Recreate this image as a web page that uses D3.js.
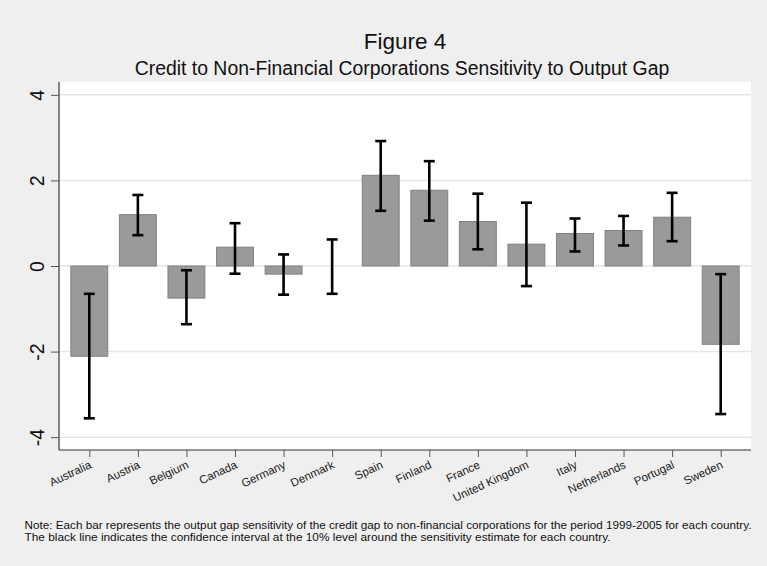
<!DOCTYPE html>
<html>
<head>
<meta charset="utf-8">
<script src="https://cdn.jsdelivr.net/npm/d3@7"></script>
<style>
  html, body { margin: 0; padding: 0; background: #efefef; }
  svg { display: block; font-family: "Liberation Sans", Arial, Helvetica, sans-serif; }
</style>
</head>
<body>
<svg id="chart" width="767" height="566"></svg>
<script>
// Countries, point estimates and 10% confidence bounds
const countries = ["Australia", "Austria", "Belgium", "Canada", "Germany", "Denmark", "Spain",
  "Finland", "France", "United Kingdom", "Italy", "Netherlands", "Portugal", "Sweden"];
const estimates = [-2.11, 1.20, -0.75, 0.44, -0.19, 0.00, 2.12, 1.77, 1.04, 0.51, 0.76, 0.83, 1.14, -1.83];
const ciLow  = [-3.56, 0.72, -1.36, -0.18, -0.67, -0.65, 1.29, 1.06, 0.39, -0.47, 0.34, 0.48, 0.58, -3.46];
const ciHigh = [-0.65, 1.66, -0.10, 1.00, 0.27, 0.62, 2.92, 2.45, 1.69, 1.48, 1.11, 1.17, 1.71, -0.19];
const yTicks = [-4, -2, 0, 2, 4];
const yTickLabels = ["-4", "-2", "0", "2", "4"];

const titleText = "Figure 4";
const subtitleText = "Credit to Non-Financial Corporations Sensitivity to Output Gap";
const noteLines = [
  "Note: Each bar represents the output gap sensitivity of the credit gap to non-financial corporations for the period 1999-2005 for each country.",
  "The black line indicates the confidence interval at the 10% level around the sensitivity estimate for each country."
];

const svg = d3.select("#chart");
const plot = { left: 59, right: 751, top: 82, bottom: 450 };

const x = d3.scalePoint().domain(countries).range([plot.left, plot.right]).padding(0.624);
const y = d3.scaleLinear().domain([-4.3, 4.3]).range([plot.bottom, plot.top]);
const barW = x.step() * 0.76;

const rows = countries.map((c, i) => ({ c, v: estimates[i], lo: ciLow[i], hi: ciHigh[i] }));

// plot region
svg.append("rect")
  .attr("x", plot.left).attr("y", plot.top)
  .attr("width", plot.right - plot.left).attr("height", plot.bottom - plot.top)
  .attr("fill", "#ffffff");

// horizontal grid
svg.append("g").selectAll("line").data(yTicks).join("line")
  .attr("x1", plot.left).attr("x2", plot.right)
  .attr("y1", d => y(d)).attr("y2", d => y(d))
  .attr("stroke", "#e6e6e6").attr("stroke-width", 1.5);

// bars
svg.append("g").selectAll("rect").data(rows.filter(d => d.v !== 0)).join("rect")
  .attr("x", d => x(d.c) - barW / 2)
  .attr("width", barW)
  .attr("y", d => y(Math.max(0, d.v)))
  .attr("height", d => Math.abs(y(d.v) - y(0)))
  .attr("fill", "#9a9a9a")
  .attr("stroke", "#808080")
  .attr("stroke-width", 1);

// confidence intervals
const ci = svg.append("g").attr("stroke", "#000").attr("stroke-width", 2.6);
ci.selectAll("line.stem").data(rows).join("line").attr("class", "stem")
  .attr("x1", d => x(d.c)).attr("x2", d => x(d.c))
  .attr("y1", d => y(d.lo)).attr("y2", d => y(d.hi));
ci.selectAll("line.capHi").data(rows).join("line").attr("class", "capHi")
  .attr("x1", d => x(d.c) - 5.5).attr("x2", d => x(d.c) + 5.5)
  .attr("y1", d => y(d.hi)).attr("y2", d => y(d.hi));
ci.selectAll("line.capLo").data(rows).join("line").attr("class", "capLo")
  .attr("x1", d => x(d.c) - 5.5).attr("x2", d => x(d.c) + 5.5)
  .attr("y1", d => y(d.lo)).attr("y2", d => y(d.lo));

// y axis
const yAxis = svg.append("g").attr("transform", `translate(${plot.left},0)`)
  .call(d3.axisLeft(y).tickValues(yTicks).tickSize(8).tickPadding(0)
    .tickFormat((d, i) => yTickLabels[i]));
yAxis.select(".domain").attr("d", `M0,${plot.top}V${plot.bottom}`).attr("stroke", "#333").attr("stroke-width", 1.2);
yAxis.selectAll(".tick line").attr("stroke", "#555");
yAxis.selectAll(".tick text")
  .attr("x", null).attr("dy", null)
  .attr("transform", "translate(-22,0) rotate(-90)")
  .attr("text-anchor", "middle")
  .attr("dy", "0.36em")
  .attr("font-size", 19.5).attr("fill", "#111")
  .attr("font-family", "Liberation Sans, Arial, sans-serif");

// x axis
const xAxis = svg.append("g").attr("transform", `translate(0,${plot.bottom})`)
  .call(d3.axisBottom(x).tickSize(7).tickPadding(0));
xAxis.select(".domain").attr("d", `M${plot.left},0H${plot.right}`).attr("stroke", "#333").attr("stroke-width", 1.2);
xAxis.selectAll(".tick line").attr("stroke", "#555");
xAxis.selectAll(".tick text")
  .attr("y", null).attr("dy", null)
  .attr("transform", "translate(-1,10) rotate(-25)")
  .attr("text-anchor", "end")
  .attr("dy", "0.72em")
  .attr("font-size", 11.5).attr("fill", "#222")
  .attr("font-family", "Liberation Sans, Arial, sans-serif");

// titles
const cx = (plot.left + plot.right) / 2;
svg.append("text").attr("x", cx).attr("y", 48.5).attr("text-anchor", "middle")
  .attr("font-size", 22.5).attr("fill", "#111").text(titleText);
svg.append("text").attr("x", cx - 3).attr("y", 75).attr("text-anchor", "middle")
  .attr("font-size", 19.4).attr("fill", "#111").text(subtitleText);

// note
svg.append("g").selectAll("text").data(noteLines).join("text")
  .attr("x", 24.5).attr("y", (d, i) => 529 + i * 11.5)
  .attr("font-size", 10.2).attr("fill", "#111")
  .attr("textLength", (d, i) => i === 0 ? 727 : 586)
  .attr("lengthAdjust", "spacingAndGlyphs")
  .text(d => d);
</script>
</body>
</html>
